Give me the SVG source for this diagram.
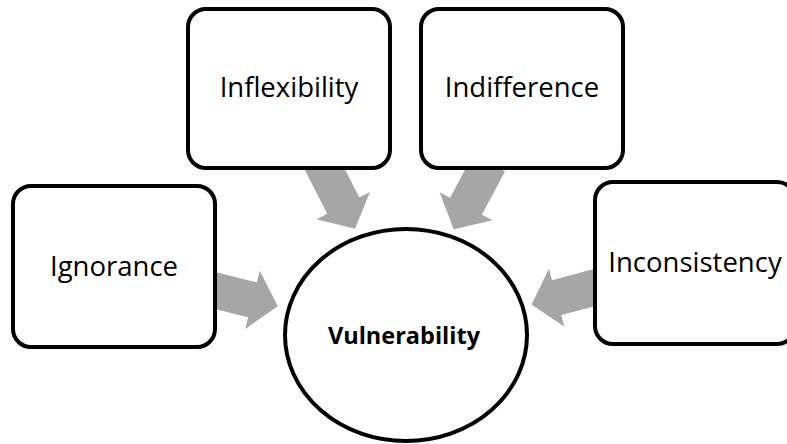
<svg xmlns="http://www.w3.org/2000/svg" xmlns:xlink="http://www.w3.org/1999/xlink" width="787" height="444" viewBox="0 0 787 444">
  <style>
    .box { fill: #ffffff; stroke: #000000; stroke-width: 4; }
    .hub { fill: #ffffff; stroke: #000000; stroke-width: 4; }
    .label { font-family: "Open Sans", "Liberation Sans", sans-serif; font-size: 27.5px; fill: #000000; text-anchor: middle; }
    .hub-label { font-family: "Open Sans", "Liberation Sans", sans-serif; font-size: 23.5px; font-weight: bold; fill: #000000; text-anchor: middle; }
    .flow { fill: #a6a6a6; }
  </style>
  <defs>
    <!-- block arrow pointing along +x, length 75 -->
    <polygon id="blockArrow" class="flow" points="0,-18 49,-18 49,-30 75,0 49,30 49,18 0,18"/>
  </defs>

  <g id="connectors">
    <use xlink:href="#blockArrow" transform="translate(205,288) rotate(14)"/>
    <use xlink:href="#blockArrow" transform="translate(321,162) rotate(63)"/>
    <use xlink:href="#blockArrow" transform="translate(489,163) rotate(118)"/>
    <use xlink:href="#blockArrow" transform="translate(604,285) rotate(165)"/>
  </g>

  <g id="ignorance">
    <rect class="box" x="13" y="186" width="202" height="161" rx="18"/>
    <text class="label" x="114" y="276">Ignorance</text>
  </g>

  <g id="inflexibility">
    <rect class="box" x="188" y="9" width="202" height="159" rx="18"/>
    <text class="label" x="289" y="97">Inflexibility</text>
  </g>

  <g id="indifference">
    <rect class="box" x="421" y="9" width="202" height="159" rx="18"/>
    <text class="label" x="522" y="97">Indifference</text>
  </g>

  <g id="inconsistency">
    <rect class="box" x="595" y="182" width="200" height="162" rx="18"/>
    <text class="label" x="695" y="272">Inconsistency</text>
  </g>

  <g id="vulnerability">
    <ellipse class="hub" cx="406" cy="335" rx="121" ry="106"/>
    <text class="hub-label" x="404" y="344">Vulnerability</text>
  </g>
</svg>
